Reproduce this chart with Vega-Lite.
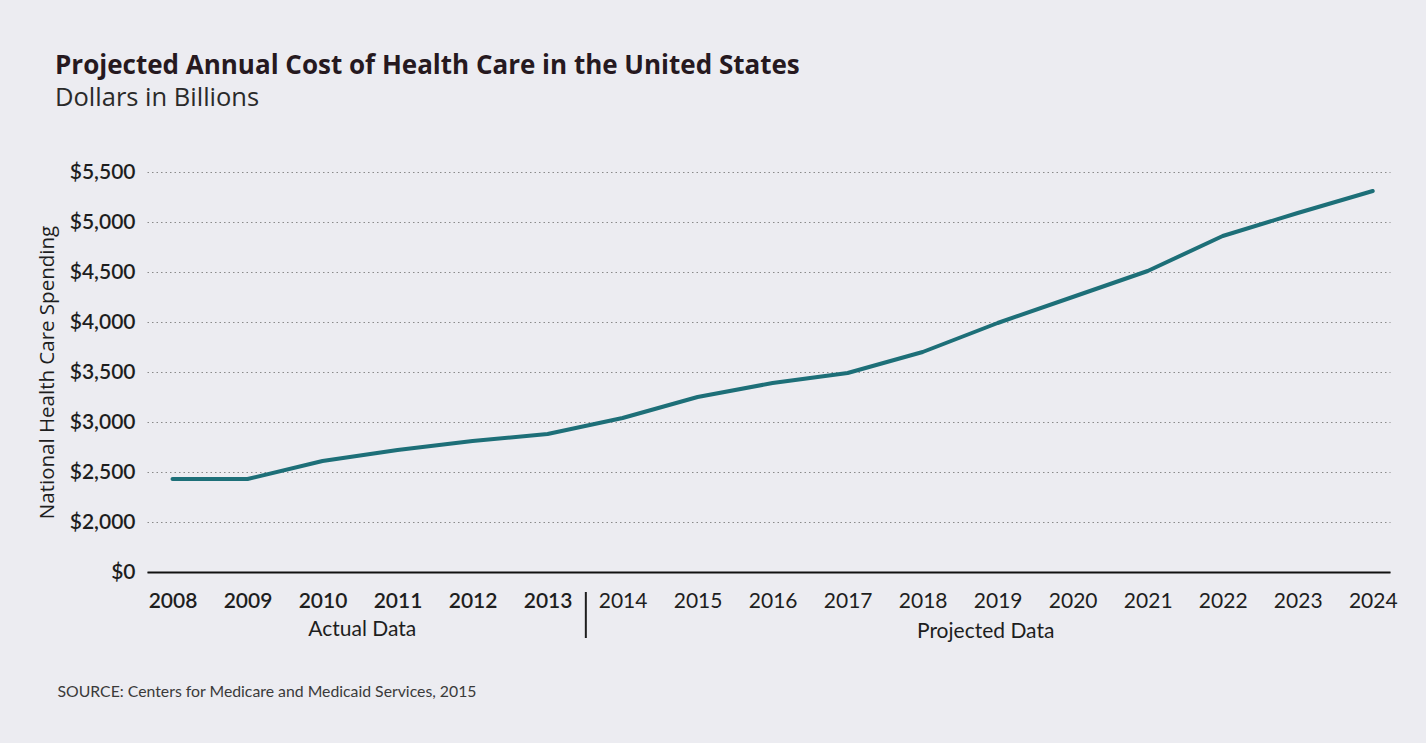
{
  "$schema": "https://vega.github.io/schema/vega-lite/v6.json",
  "width": 1243,
  "height": 400,
  "autosize": {"type": "none"},
  "padding": {"left": 147, "top": 172, "right": 36, "bottom": 171},
  "background": "#ececf1",
  "config": {"view": {"stroke": null}, "font": "Lato"},
  "title": {
    "text": "Projected Annual Cost of Health Care in the United States",
    "subtitle": "Dollars in Billions",
    "anchor": "start",
    "frame": "group",
    "dx": -92,
    "offset": 50,
    "font": "Open Sans",
    "fontSize": 26,
    "fontWeight": 700,
    "color": "#26191f",
    "subtitleFont": "Open Sans",
    "subtitleFontSize": 25.5,
    "subtitleColor": "#2a2a2a",
    "subtitlePadding": 7
  },
  "datasets": {
    "spend": [
      {"year": 2008, "value": 2430},
      {"year": 2009, "value": 2430},
      {"year": 2010, "value": 2610},
      {"year": 2011, "value": 2720},
      {"year": 2012, "value": 2810},
      {"year": 2013, "value": 2880},
      {"year": 2014, "value": 3040},
      {"year": 2015, "value": 3250},
      {"year": 2016, "value": 3390},
      {"year": 2017, "value": 3490},
      {"year": 2018, "value": 3700},
      {"year": 2019, "value": 3990},
      {"year": 2020, "value": 4250},
      {"year": 2021, "value": 4510},
      {"year": 2022, "value": 4860},
      {"year": 2023, "value": 5090},
      {"year": 2024, "value": 5310}
    ],
    "groups": [
      {"year": 2010.53, "value": 920, "label": "Actual Data", "weight": "bold"},
      {"year": 2018.84, "value": 900, "label": "Projected Data", "weight": "normal"}
    ],
    "divider": [
      {"year": 2013.51, "top": 1300, "bottom": 840}
    ]
  },
  "layer": [
    {
      "data": {"name": "spend"},
      "mark": {"type": "line", "color": "#1d6f78", "strokeWidth": 4, "strokeCap": "round", "strokeJoin": "round"},
      "encoding": {
        "x": {
          "field": "year",
          "type": "quantitative",
          "scale": {"domain": [2007.66, 2024.23], "nice": false, "zero": false},
          "axis": {
            "values": [2008, 2009, 2010, 2011, 2012, 2013, 2014, 2015, 2016, 2017, 2018, 2019, 2020, 2021, 2022, 2023, 2024],
            "format": "d",
            "grid": false,
            "ticks": false,
            "domainColor": "#111111",
            "domainWidth": 2,
            "labelFontSize": 21,
            "labelColor": "#1e1e1e",
            "labelFontWeight": {"condition": {"test": "datum.value <= 2013", "value": 600}, "value": 400},
            "labelPadding": 29,
            "labelBaseline": "middle",
            "labelFlush": false,
            "title": "SOURCE: Centers for Medicare and Medicaid Services, 2015",
            "titleAnchor": "start",
            "titleAlign": "left",
            "titleX": -90,
            "titleY": 112,
            "titleFontSize": 15.8,
            "titleFontWeight": "normal",
            "titleColor": "#3a3a3a"
          }
        },
        "y": {
          "field": "value",
          "type": "quantitative",
          "scale": {"domain": [1500, 5500], "nice": false, "zero": false},
          "axis": {
            "values": [1500, 2000, 2500, 3000, 3500, 4000, 4500, 5000, 5500],
            "labelExpr": "datum.value == 1500 ? '$0' : '$' + format(datum.value, ',')",
            "domain": false,
            "ticks": false,
            "grid": true,
            "gridColor": "#8a8a8a",
            "gridDash": [1.5, 3],
            "gridWidth": 1,
            "labelFontSize": 21,
            "labelFontWeight": 600,
            "labelColor": "#1e1e1e",
            "labelPadding": 12,
            "title": "National Health Care Spending",
            "titleFont": "Open Sans",
            "titleFontSize": 20.5,
            "titleFontWeight": "normal",
            "titleColor": "#1e1e1e",
            "titlePadding": 12
          }
        }
      }
    },
    {
      "data": {"name": "groups"},
      "mark": {"type": "text", "fontSize": 21, "color": "#1e1e1e", "baseline": "middle", "align": "center"},
      "encoding": {
        "x": {"field": "year", "type": "quantitative"},
        "y": {"field": "value", "type": "quantitative"},
        "text": {"field": "label"},
        "fontWeight": {"field": "weight", "type": "nominal", "scale": null}
      }
    },
    {
      "data": {"name": "divider"},
      "mark": {"type": "rule", "color": "#1e1e1e", "strokeWidth": 2},
      "encoding": {
        "x": {"field": "year", "type": "quantitative"},
        "y": {"field": "top", "type": "quantitative"},
        "y2": {"field": "bottom"}
      }
    }
  ]
}
